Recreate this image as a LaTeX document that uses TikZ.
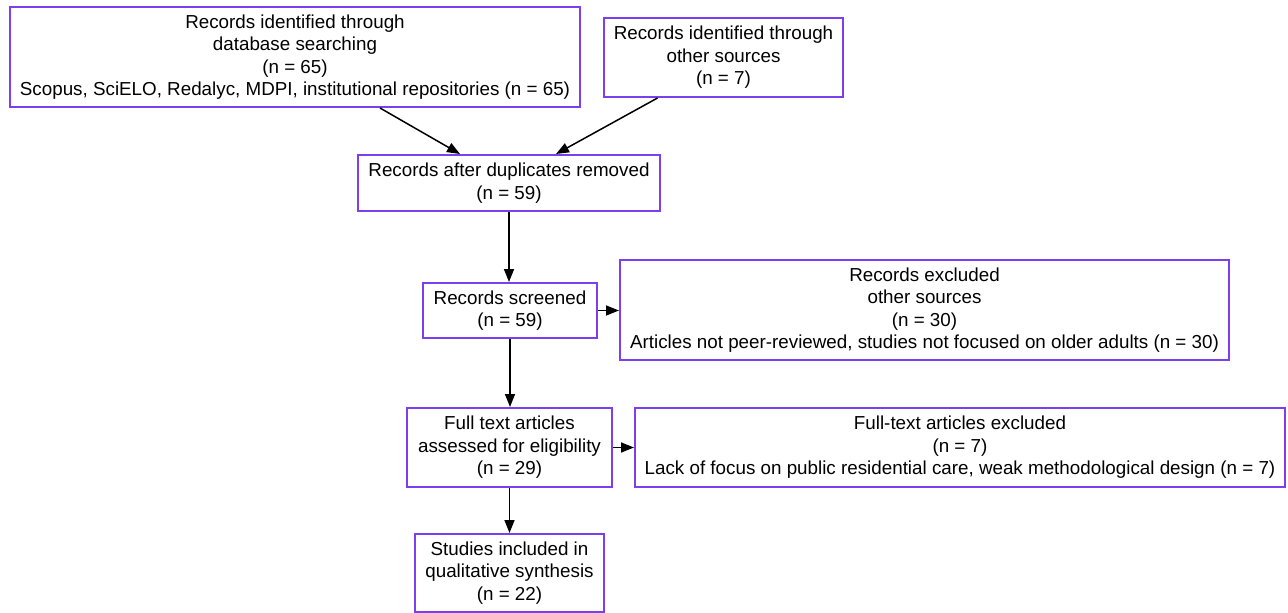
\documentclass[tikz,border=0pt]{standalone}
\usepackage{fontspec}
\setmainfont{Liberation Sans}
\usetikzlibrary{arrows.meta}
\definecolor{boxc}{HTML}{7B3FF0}
\begin{document}
\begin{tikzpicture}[x=1pt,y=-1pt,
  box/.style={draw=boxc,line width=2pt,align=center,inner sep=0pt,font=\fontsize{18.8}{22.5}\selectfont},
  arr/.style={line width=1.5pt,-{Triangle[length=13pt,width=10pt]}}]
\useasboundingbox (0,0) rectangle (1288,613);
\node[box,minimum width=570,minimum height=100] (A) at (295,57) {Records identified through\\database searching\\(n = 65)\\Scopus, SciELO, Redalyc, MDPI, institutional repositories (n = 65)};
\node[box,minimum width=239,minimum height=79] (B) at (723.5,57.5) {Records identified through\\other sources\\(n = 7)};
\node[box,minimum width=302,minimum height=56] (C) at (509,183) {Records after duplicates removed\\(n = 59)};
\node[box,minimum width=174,minimum height=55] (D) at (510,310.5) {Records screened\\(n = 59)};
\node[box,minimum width=609,minimum height=100] (E) at (924.5,310) {Records excluded\\other sources\\(n = 30)\\Articles not peer-reviewed, studies not focused on older adults (n = 30)};
\node[box,minimum width=205,minimum height=79] (F) at (509.5,447.5) {Full text articles\\assessed for eligibility\\(n = 29)};
\node[box,minimum width=650,minimum height=79] (G) at (960,447.5) {Full-text articles excluded\\(n = 7)\\Lack of focus on public residential care, weak methodological design (n = 7)};
\node[box,minimum width=189,minimum height=78] (H) at (509.5,573) {Studies included in\\qualitative synthesis\\(n = 22)};
\draw[arr] ([xshift=85]A.south) -- ([xshift=-49]C.north);
\draw[arr] ([xshift=-66]B.south) -- ([xshift=47]C.north);
\draw[arr] (C.south) -- (C.south |- D.north);
\draw[arr] (D.east) -- (D.east -| E.west);
\draw[arr] (D.south) -- (D.south |- F.north);
\draw[arr] (F.east) -- (F.east -| G.west);
\draw[arr] (F.south) -- (F.south |- H.north);
\end{tikzpicture}
\end{document}
